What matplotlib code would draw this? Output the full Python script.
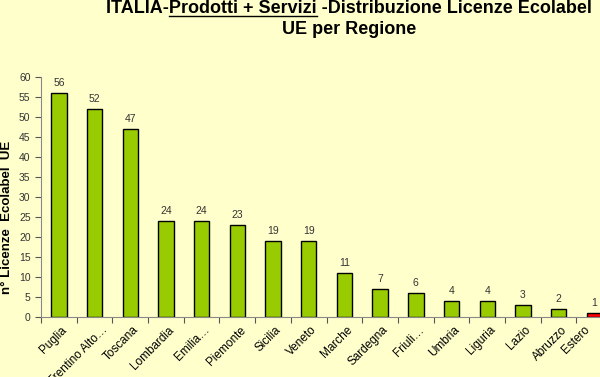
import matplotlib.pyplot as plt
from matplotlib.transforms import ScaledTranslation

regioni = ['Puglia', 'Trentino Alto…', 'Toscana', 'Lombardia', 'Emilia…',
           'Piemonte', 'Sicilia', 'Veneto', 'Marche', 'Sardegna', 'Friuli…',
           'Umbria', 'Liguria', 'Lazio', 'Abruzzo', 'Estero']
licenze = [56, 52, 47, 24, 24, 23, 19, 19, 11, 7, 6, 4, 4, 3, 2, 1]
colori = ['#99CC00'] * 15 + ['#FF0000']

plt.rcParams['font.family'] = ['Liberation Sans', 'DejaVu Sans']
sfondo = '#FFFFCC'

fig = plt.figure(figsize=(6, 3.77), dpi=100, facecolor=sfondo)
ax = fig.add_axes([0.0683, 0.159, 0.952, 0.637], facecolor=sfondo)

x = range(len(regioni))
ax.bar(x, licenze, width=0.43, color=colori, edgecolor='black', linewidth=1)
for i, v in zip(x, licenze):
    ax.text(i, v + 1.2, str(v), ha='center', va='bottom', fontsize=7.5, color='#333333')

ax.set_xlim(-0.5, len(regioni) - 0.5)
ax.set_ylim(0, 60)
ax.set_yticks(range(0, 61, 5))
ax.set_xticks([i + 0.5 for i in range(-1, len(regioni))], minor=False)
ax.set_xticklabels([])
ax.set_xticks(list(x), minor=True)
ax.set_xticklabels(regioni, minor=True, rotation=45, ha='right', rotation_mode='anchor', fontsize=8.5)
ax.tick_params(axis='x', which='minor', length=0, pad=5)
ax.tick_params(axis='x', which='major', length=4, color='#555555')
ax.tick_params(axis='y', labelsize=7.5, length=4, color='#555555', labelcolor='#333333')
# spostamenti orizzontali delle etichette (in punti), come nell'originale
spost = [1.5] * len(regioni)
spost[1] = 5
spost[-1] = -8
for lab, dx in zip(ax.get_xticklabels(minor=True), spost):
    lab.set_transform(lab.get_transform() + ScaledTranslation(dx / 72, 0, fig.dpi_scale_trans))
for s in ['top', 'right']:
    ax.spines[s].set_visible(False)
for s in ['left', 'bottom']:
    ax.spines[s].set_color('#888888')

ax.set_ylabel('n° Licenze  Ecolabel  UE', fontsize=9.5, fontweight='bold')
ax.yaxis.set_label_coords(-0.049, 0.417)

# titolo con sottolineatura su "Prodotti + Servizi"
fs_tit = 13
xc = 0.582
t1 = fig.text(xc, 1 - 13 / 377, 'ITALIA-Prodotti + Servizi -Distribuzione Licenze Ecolabel',
              fontsize=fs_tit, fontweight='bold', ha='center', va='baseline')
fig.text(xc, 1 - 34 / 377, 'UE per Regione', fontsize=fs_tit, fontweight='bold',
         ha='center', va='baseline')

fig.canvas.draw()
r = fig.canvas.get_renderer()
def larghezza(s):
    tmp = fig.text(0, 0, s, fontsize=fs_tit, fontweight='bold')
    w = tmp.get_window_extent(r).width
    tmp.remove()
    return w
bb = t1.get_window_extent(r)
x0 = bb.x0 + larghezza('ITALIA-')
x1 = bb.x0 + larghezza('ITALIA-Prodotti + Servizi')
W, H = fig.bbox.width, fig.bbox.height
yl = 1 - 16 / 377
fig.add_artist(plt.Line2D([x0 / W, x1 / W], [yl, yl], color='black', linewidth=1))

fig.savefig('out.png', dpi=100, facecolor=sfondo)
